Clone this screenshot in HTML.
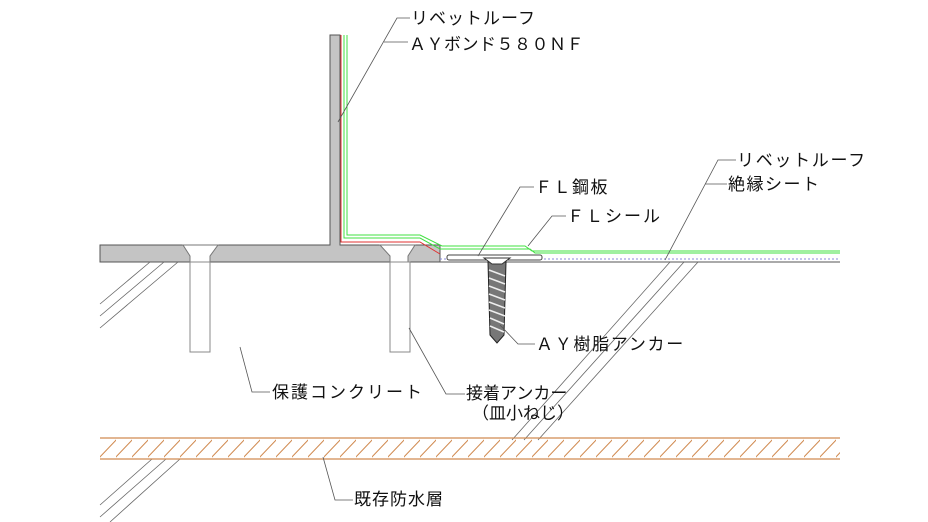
<!DOCTYPE html>
<html><head><meta charset="utf-8"><style>
html,body{margin:0;padding:0;background:#fff}
svg{display:block}
text{font-family:"Liberation Sans","Noto Sans CJK JP",sans-serif;font-size:17px;fill:#111}
</style></head><body>
<svg width="928" height="522" viewBox="0 0 928 522" xmlns="http://www.w3.org/2000/svg">
<defs>
<pattern id="h" width="16" height="21" patternUnits="userSpaceOnUse" x="100" y="438">
<line x1="-2" y1="21" x2="18" y2="0" stroke="#d08a50" stroke-width="1"/>
</pattern>
</defs>
<path d="M100,245 H330 V35 H340 V245 H440 V262 H100 Z" fill="#c4c4c4" stroke="#555" stroke-width="1"/>
<path d="M183,245 L218,245 L210,256 L210,262 L190,262 L190,256 Z" fill="#fff" stroke="#777"/>
<rect x="190" y="262" width="20" height="90" fill="#fff" stroke="#888"/>
<path d="M380,245 L415,245 L408,256 L408,262 L390,262 L390,256 Z" fill="#fff" stroke="#777"/>
<rect x="390" y="262" width="20" height="90" fill="#fff" stroke="#888"/>
<path d="M341,35 V242 H420 L440,254" fill="none" stroke="#e03030" stroke-width="1"/>
<path d="M344,35 V238 H420 L440,249 H530 L535,253 H840" fill="none" stroke="#40e040" stroke-width="1"/>
<path d="M347,35 V235 H420 L442,246 H525 L532,251 H840" fill="none" stroke="#40e040" stroke-width="1"/>
<path d="M440,262 H840" stroke="#777" stroke-width="1.2"/>
<path d="M440,259 H840" stroke="#8888dd" stroke-width="1" stroke-dasharray="2,2"/>
<rect x="447" y="255" width="95" height="5" rx="2" fill="#fff" stroke="#444" stroke-width="1"/>
<path d="M488,262 H506 L504,335 L497,343 L490,335 Z" fill="#777" stroke="#222"/>
<path d="M489,270 L505,276 M489,278 L505,284 M489,286 L505,292 M489,294 L505,300 M489,302 L505,308 M489,310 L505,316 M490,318 L504,324 M490,326 L504,332" stroke="#eee" stroke-width="1.5"/>
<path d="M484,258 L510,258 L502,264 L492,264 Z" fill="#fff" stroke="#333"/>
<g stroke="#666" stroke-width="0.8" fill="none">
<path d="M150,262 L100,304 M164,262 L100,316 M178,262 L100,328"/>
<path d="M670,262 L512,440 M684,262 L524,440 M698,262 L538,440"/>
<path d="M152,459 L100,505 M166,459 L100,517 M180,459 L110,522"/>
</g>
<rect x="100" y="438" width="740" height="21" fill="url(#h)"/>
<path d="M100,438 H840 M100,459 H840" stroke="#d08a50" stroke-width="1.2"/>
<g stroke="#555" stroke-width="0.8" fill="none">
<path d="M410,18 H397 L338,122"/>
<path d="M408,42 H384"/>
<path d="M534,187 H520 L478,256"/>
<path d="M566,216 H552 L528,246"/>
<path d="M736,160 H718 L665,260"/>
<path d="M727,184 H705"/>
<path d="M535,344 H518 L500,325"/>
<path d="M270,392 H252 L240,347"/>
<path d="M465,394 H446 L409,328"/>
<path d="M353,500 H335 L323,457"/>
</g>
<text x="411" y="24" letter-spacing="1">リベットルーフ</text>
<text x="409" y="50" letter-spacing="0.5">ＡＹボンド５８０ＮＦ</text>
<text x="535" y="193" letter-spacing="1.5">ＦＬ鋼板</text>
<text x="567" y="222" letter-spacing="2">ＦＬシール</text>
<text x="737" y="166" letter-spacing="1.7">リベットルーフ</text>
<text x="728" y="190" letter-spacing="1.5">絶縁シート</text>
<text x="536" y="350" letter-spacing="1.7">ＡＹ樹脂アンカー</text>
<text x="272" y="398" letter-spacing="2">保護コンクリート</text>
<text x="466" y="399" letter-spacing="0">接着アンカー</text>
<text x="472" y="419" letter-spacing="0">（皿小ねじ）</text>
<text x="354" y="505" letter-spacing="1">既存防水層</text>
</svg>
</body></html>
